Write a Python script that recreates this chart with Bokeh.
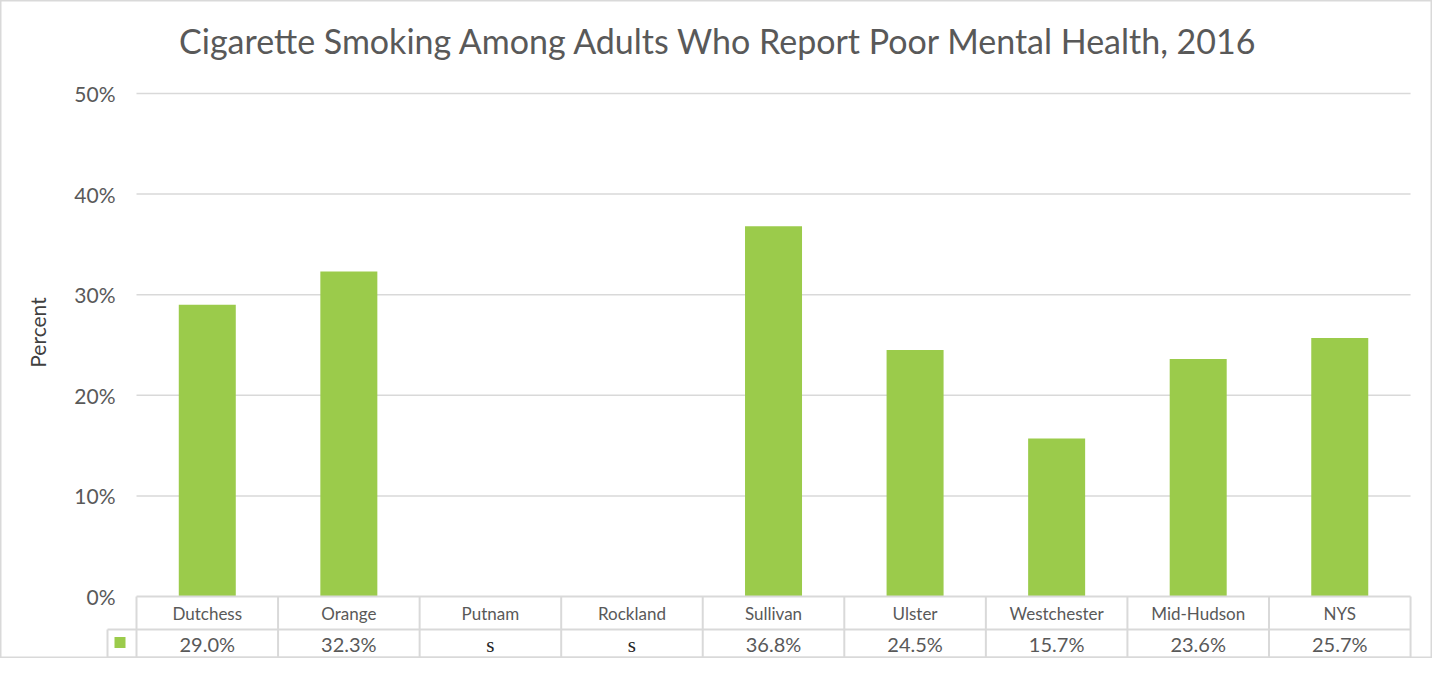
from bokeh.plotting import figure
from bokeh.models import Range1d, Label
from bokeh.core.properties import value
from bokeh.embed import file_html
from bokeh.resources import INLINE
import math

# ---------------- data ----------------
categories = ["Dutchess", "Orange", "Putnam", "Rockland", "Sullivan",
              "Ulster", "Westchester", "Mid-Hudson", "NYS"]
percent = [29.0, 32.3, None, None, 36.8, 24.5, 15.7, 23.6, 25.7]
y_ticks = [0, 10, 20, 30, 40, 50]
title_text = "Cigarette Smoking Among Adults Who Report Poor Mental Health, 2016"
y_label = "Percent"
suppressed = "s"

# ---------------- layout constants (pixels, figure coords) ----------------
W, H = 1432, 658
X0_PX = 136.0          # x of category 0 left edge
COL_PX = 141.56        # width of one category column
Y0_PX = 596.0          # y of 0 %
PCT_PX = 10.06         # pixels per percent

def xd(px):
    return (px - X0_PX) / COL_PX

def yd(py):
    return (Y0_PX - py) / PCT_PX

FONT = "Lato"
TXT = "#595959"
GRID = "#d9d9d9"
GREEN = "#9BCB4B"

p = figure(width=W, height=H, output_backend="svg", toolbar_location=None,
           x_axis_type=None, y_axis_type=None,
           x_range=Range1d(xd(0), xd(W)), y_range=Range1d(yd(H), yd(0)),
           min_border=0, min_border_left=0, min_border_right=0,
           min_border_top=0, min_border_bottom=0)
p.grid.visible = False
p.outline_line_color = GRID
p.outline_line_width = 2
p.background_fill_color = "white"
p.border_fill_color = "white"

n = len(categories)
centers = [i + 0.5 for i in range(n)]

# gridlines (above 0)
gt = [t for t in y_ticks if t > 0]
p.segment(x0=[0] * len(gt), x1=[n] * len(gt), y0=gt, y1=gt,
          line_color=GRID, line_width=1.5)

# bars
bx = [c for c, v in zip(centers, percent) if v is not None]
bv = [v for v in percent if v is not None]
p.vbar(x=bx, top=bv, bottom=0, width=57 / COL_PX, fill_color=GREEN,
       line_color=None)

# y tick labels
p.text(x=[xd(115)] * len(y_ticks), y=y_ticks,
       text=[f"{t}%" for t in y_ticks], text_align="right",
       text_baseline="middle", text_color=TXT,
       text_font=value(FONT), text_font_size=value("21px"))

# y axis label
p.add_layout(Label(x=xd(37), y=yd(332), text=y_label, angle=math.pi / 2,
                   text_align="center", text_baseline="middle",
                   text_color="#404040", text_font=FONT,
                   text_font_size="21px"))

# title
p.add_layout(Label(x=xd(718.5), y=yd(40), text=title_text,
                   text_align="center", text_baseline="middle",
                   text_color=TXT, text_font=FONT, text_font_size="34px"))

# data table
row1 = yd(629)
row2 = yd(657)
leg_l = xd(107)
# horizontal lines
p.segment(x0=[0, leg_l, leg_l], x1=[n, n, n], y0=[0, row1, row2],
          y1=[0, row1, row2], line_color=GRID, line_width=2)
# vertical lines
vx = list(range(n + 1))
p.segment(x0=vx, x1=vx, y0=[0] * len(vx), y1=[row2] * len(vx),
          line_color=GRID, line_width=2)
p.segment(x0=[leg_l], x1=[leg_l], y0=[row1], y1=[row2],
          line_color=GRID, line_width=2)

# legend key
p.scatter(x=[xd(119.5)], y=[yd(642)], marker="square", size=11,
          fill_color=GREEN, line_color=None)

# category labels
p.text(x=centers, y=[(0 + row1) / 2] * n, text=categories,
       text_align="center", text_baseline="middle", text_color=TXT,
       text_font=value(FONT), text_font_size=value("17px"))

# value labels
num_x = [c for c, v in zip(centers, percent) if v is not None]
num_t = [f"{v:.1f}%" for v in percent if v is not None]
p.text(x=num_x, y=[(row1 + row2) / 2] * len(num_x), text=num_t,
       text_align="center", text_baseline="middle", text_color=TXT,
       text_font=value(FONT), text_font_size=value("20px"))
s_x = [c for c, v in zip(centers, percent) if v is None]
p.text(x=s_x, y=[(row1 + row2) / 2 - 0.15] * len(s_x),
       text=[suppressed] * len(s_x),
       text_align="center", text_baseline="middle", text_color="#262626",
       text_font=value("Liberation Serif"), text_font_size=value("21px"))

open("out.html", "w").write(file_html(p, INLINE))
